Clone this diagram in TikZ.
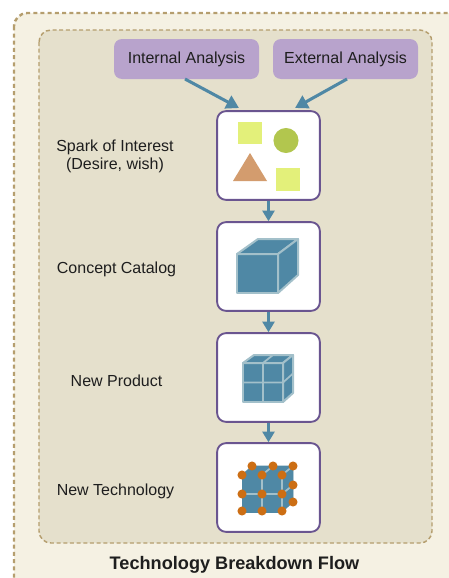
\documentclass[tikz,border=0pt]{standalone}
\usepackage{fontspec}
\setmainfont{Liberation Sans}
\definecolor{outerfill}{HTML}{F5F1E3}
\definecolor{innerfill}{HTML}{E5E0CC}
\definecolor{dashcol}{HTML}{B59E6E}
\definecolor{purplefill}{HTML}{B8A3CC}
\definecolor{framecol}{HTML}{6A5590}
\definecolor{teal}{HTML}{4F88A5}
\definecolor{cubeline}{HTML}{A3C0CA}
\definecolor{lime}{HTML}{E3F07A}
\definecolor{olive}{HTML}{B2C64E}
\definecolor{tan}{HTML}{D39C6E}
\definecolor{dotcol}{HTML}{CC6E14}
\definecolor{inktext}{HTML}{1E1E1E}
\usetikzlibrary{arrows.meta}
\tikzset{
  outerbox/.style={draw=dashcol,fill=outerfill,line width=1.8pt,dash pattern=on 3pt off 2.4pt,rounded corners=10pt},
  innerbox/.style={draw=dashcol,fill=innerfill,line width=1.1pt,dash pattern=on 3pt off 2pt,rounded corners=9pt},
  analysis/.style={fill=purplefill,rounded corners=6pt,minimum width=108.75pt,minimum height=30pt,inner sep=0pt,text=inktext,font=\fontsize{12pt}{14pt}\selectfont},
  stagebox/.style={draw=framecol,fill=white,line width=1.4pt,rounded corners=6.5pt,minimum width=77pt,minimum height=66.5pt,inner sep=0pt},
  stagelabel/.style={align=center,text=inktext,inner sep=0pt,font=\fontsize{12pt}{13.8pt}\selectfont},
  flow/.style={draw=teal,line width=2.1pt,-{Triangle[length=8pt,width=9pt]}},
  bigflow/.style={draw=teal,line width=2.3pt,-{Triangle[length=9.5pt,width=10.5pt]}},
  cubeface/.style={fill=teal,draw=cubeline,line width=1.5pt,line join=round},
  atomface/.style={fill=teal,draw=teal,line width=.5pt,line join=round},
  griddiv/.style={draw=cubeline,line width=1.3pt},
  atom/.style={circle,fill=dotcol,minimum size=6.8pt,inner sep=0pt},
}
\begin{document}
\begin{tikzpicture}[x=0.75pt,y=-0.75pt]
\useasboundingbox (0,0) rectangle (449,578);
\begin{scope}
\clip (0,0) rectangle (449,578);
\draw[outerbox] (14,13) rectangle (470,610);
\end{scope}
\draw[innerbox] (39,30) rectangle (432,543);
\node[analysis] (internal) at (186.5,59) {\raisebox{-2pt}{Internal Analysis}};
\node[analysis] (external) at (345.5,59) {\raisebox{-2pt}{External Analysis}};
\node[stagebox] (spark) at (268.5,155.5) {};
\node[stagebox] (concept) at (268.5,266.5) {};
\node[stagebox] (product) at (268.5,377.5) {};
\node[stagebox] (tech) at (268.5,487.5) {};
\coordinate (ia) at (185,79);
\coordinate (ib) at (239,108);
\coordinate (ea) at (347,79);
\coordinate (eb) at (295,108);
\draw[bigflow] (ia) -- (ib);
\draw[bigflow] (ea) -- (eb);
\draw[flow] (spark.south) -- (concept.north);
\draw[flow] (concept.south) -- (product.north);
\draw[flow] (product.south) -- (tech.north);
\node[stagelabel] (l1) at (115,156.5) {Spark of Interest\\(Desire, wish)};
\node[stagelabel] (l2) at (116.5,269) {Concept Catalog};
\node[stagelabel] (l3) at (116.5,381) {New Product};
\node[stagelabel] (l4) at (115.5,491) {New Technology};
\node[font=\bfseries\fontsize{13.6pt}{15pt}\selectfont,text=inktext,inner sep=0pt] (title) at (234.5,565) {Technology Breakdown Flow};
% spark icon
\fill[lime] (237.5,122) rectangle (262,144);
\fill[olive] (286,140.5) circle (9.4pt);
\fill[tan] (233,181) -- (250,153) -- (267,181) -- cycle;
\fill[lime] (275.5,167.5) rectangle (300,190.5);
% big cube
\draw[cubeface] (237,254) rectangle (278,293);
\draw[cubeface] (237,254) -- (258,239) -- (298,239) -- (278,254) -- cycle;
\draw[cubeface] (278,254) -- (298,239) -- (298,275) -- (278,293) -- cycle;
% medium cube
\draw[cubeface] (243,363) rectangle (283,402);
\draw[cubeface] (243,363) -- (254,355) -- (293,355) -- (283,363) -- cycle;
\draw[cubeface] (283,363) -- (293,355) -- (293,393) -- (283,402) -- cycle;
\draw[griddiv] (263,363) -- (263,402) (243,382.5) -- (283,382.5) (263,363) -- (273,355) (283,382.5) -- (293,373.5);
% atom cube
\draw[atomface] (242,475) rectangle (282,512);
\draw[atomface] (242,475) -- (252,466) -- (293,466) -- (282,475) -- cycle;
\draw[atomface] (282,475) -- (293,466) -- (293,502) -- (282,512) -- cycle;
\draw[griddiv] (262,475) -- (262,512) (242,494) -- (282,494) (262,475) -- (273,466) (282,494) -- (293,485) (282,475) -- (293,466) (282,475) -- (282,512);
\foreach \px/\py in {252/466,273/466,293/466,293/485,293/502,242/475,262/475,282/475,242/494,262/494,282/494,242/511,262/511,282/511}
  \node[atom] at (\px,\py) {};
\end{tikzpicture}
\end{document}
